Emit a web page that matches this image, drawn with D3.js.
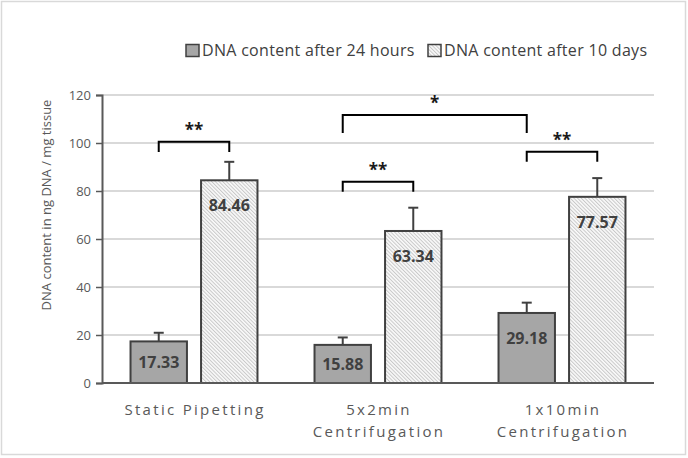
<!DOCTYPE html>
<html><head><meta charset="utf-8">
<script src="https://cdn.jsdelivr.net/npm/d3@7"></script>
<style>
html,body{margin:0;padding:0;background:#fff;}
svg text{font-family:"Open Sans","Noto Sans",sans-serif;}
</style></head>
<body>
<svg id="chart" width="688" height="458"></svg>
<script>
// ---- data ----
const categories = [["Static Pipetting"], ["5x2min", "Centrifugation"], ["1x10min", "Centrifugation"]];
const seriesNames = ["DNA content after 24 hours", "DNA content after 10 days"];
const after24h = [17.33, 15.88, 29.18];
const after10d = [84.46, 63.34, 77.57];
const err24h = [3.6, 3.1, 4.3];
const err10d = [7.7, 9.7, 7.8];
const yTicks = [0, 20, 40, 60, 80, 100, 120];
// significance brackets: [groupIndex, seriesIndex] endpoints, level (data units), drop (data units)
const brackets = [
  {a:[0,0], b:[0,1], level:100.5, drop:4.2, label:"**"},
  {a:[1,0], b:[1,1], level:83.9, drop:4.2, label:"**"},
  {a:[1,0], b:[2,0], level:111.7, drop:7.5, label:"*"},
  {a:[2,0], b:[2,1], level:96.4, drop:4.2, label:"**"}
];

const svg = d3.select("#chart");
const pLeft = 102, pRight = 654, pTop = 95, pBottom = 383;

// border
svg.append("rect").attr("x",1.5).attr("y",1.5).attr("width",684).attr("height",453)
  .attr("fill","#fff").attr("stroke","#d9d9d9").attr("stroke-width",1.5);

// hatch pattern
const defs = svg.append("defs");
const pat = defs.append("pattern").attr("id","hatch").attr("patternUnits","userSpaceOnUse")
  .attr("width",2.6).attr("height",2.6).attr("patternTransform","rotate(-45)");
pat.append("rect").attr("width",2.6).attr("height",2.6).attr("fill","#fafafa");
pat.append("rect").attr("width",1).attr("height",2.6).attr("fill","#c8c8c8");

const x0 = d3.scaleBand().domain(d3.range(categories.length)).range([pLeft,pRight])
  .paddingInner(0.31).paddingOuter(0.155);
const x1 = d3.scaleBand().domain([0,1]).range([0,x0.bandwidth()]).paddingInner(0.2).paddingOuter(0);
const y = d3.scaleLinear().domain([0,120]).range([pBottom,pTop]);

const fills = ["#a6a6a6","url(#hatch)"];
const values = [after24h, after10d];
const errs = [err24h, err10d];

// gridlines
svg.append("g").selectAll("line").data(yTicks.filter(d=>d>0)).join("line")
  .attr("x1",pLeft).attr("x2",pRight).attr("y1",d=>y(d)).attr("y2",d=>y(d))
  .attr("stroke","#d9d9d9").attr("stroke-width",2);

// y axis
const yAxis = svg.append("g").attr("transform",`translate(${pLeft},0)`)
  .call(d3.axisLeft(y).tickValues(yTicks).tickSize(6).tickPadding(5));
yAxis.select(".domain").attr("stroke","#595959").attr("stroke-width",2);
yAxis.selectAll(".tick line").attr("stroke","#595959").attr("stroke-width",1.5);
yAxis.selectAll(".tick text").attr("fill","#595959").style("font-size","13px")
  .style("font-family","'Open Sans',sans-serif");

// bars
const bars = [];
categories.forEach((c,gi)=>{
  [0,1].forEach(si=>{
    bars.push({gi, si, v: values[si][gi], e: errs[si][gi]});
  });
});
const bx = d => x0(d.gi) + x1(d.si);
const bc = (gi,si) => x0(gi) + x1(si) + x1.bandwidth()/2;

// error bars (upward only)
const eg = svg.append("g");
eg.selectAll("line.v").data(bars).join("line").attr("class","v")
  .attr("x1",d=>bc(d.gi,d.si)).attr("x2",d=>bc(d.gi,d.si))
  .attr("y1",d=>y(d.v)).attr("y2",d=>y(d.v+d.e))
  .attr("stroke","#404040").attr("stroke-width",2);
eg.selectAll("line.c").data(bars).join("line").attr("class","c")
  .attr("x1",d=>bc(d.gi,d.si)-5).attr("x2",d=>bc(d.gi,d.si)+5)
  .attr("y1",d=>y(d.v+d.e)).attr("y2",d=>y(d.v+d.e))
  .attr("stroke","#404040").attr("stroke-width",2);

svg.append("g").selectAll("rect").data(bars).join("rect")
  .attr("x",bx).attr("width",x1.bandwidth())
  .attr("y",d=>y(d.v)).attr("height",d=>y(0)-y(d.v))
  .attr("fill",d=>fills[d.si]).attr("stroke","#404040").attr("stroke-width",2);

// x axis line
svg.append("line").attr("x1",pLeft).attr("x2",pRight).attr("y1",pBottom).attr("y2",pBottom)
  .attr("stroke","#595959").attr("stroke-width",2);

// value labels
svg.append("g").selectAll("text").data(bars).join("text")
  .attr("x",d=>bc(d.gi,d.si))
  .attr("y",d=>Math.min(y(d.v)+25, (y(d.v)+y(0))/2))
  .attr("dy","0.36em").attr("text-anchor","middle")
  .attr("fill","#404040").style("font-weight","bold").style("font-size","16px")
  .text(d=>d3.format(".2f")(d.v));

// category labels
const cg = svg.append("g");
categories.forEach((lines,gi)=>{
  lines.forEach((t,li)=>{
    cg.append("text").attr("x",x0(gi)+x0.bandwidth()/2 + 1).attr("y",415+li*22)
      .attr("text-anchor","middle").attr("fill","#595959")
      .style("font-size","15px").style("letter-spacing","2.3px").text(t);
  });
});

// y axis title
svg.append("text").attr("transform","translate(51,205) rotate(-90)")
  .attr("text-anchor","middle").attr("fill","#595959").style("font-size","13px")
  .text("DNA content in ng DNA / mg tissue");

// brackets
const bg = svg.append("g");
brackets.forEach(b=>{
  const xa = bc(b.a[0],b.a[1]), xb = bc(b.b[0],b.b[1]);
  const yt = y(b.level), yb = y(b.level-b.drop);
  bg.append("path").attr("d",`M${xa},${yb}V${yt}H${xb}V${yb}`)
    .attr("fill","none").attr("stroke","#000").attr("stroke-width",2);
  bg.append("text").attr("x",(xa+xb)/2).attr("y",yt-6).attr("text-anchor","middle")
    .attr("fill","#1a1a1a").style("font-size","17px").style("font-weight","bold").text(b.label);
});

// legend
const lg = svg.append("g");
const legX = [186, 428];
seriesNames.forEach((n,i)=>{
  lg.append("rect").attr("x",legX[i]).attr("y",44.5).attr("width",13).attr("height",12)
    .attr("fill",fills[i]).attr("stroke","#404040").attr("stroke-width",1.5);
  lg.append("text").attr("x",legX[i]+16).attr("y",50.5).attr("dy","0.36em")
    .attr("fill","#404040").style("font-size","16px").style("letter-spacing","0.3px").text(n);
});
</script>
</body></html>
